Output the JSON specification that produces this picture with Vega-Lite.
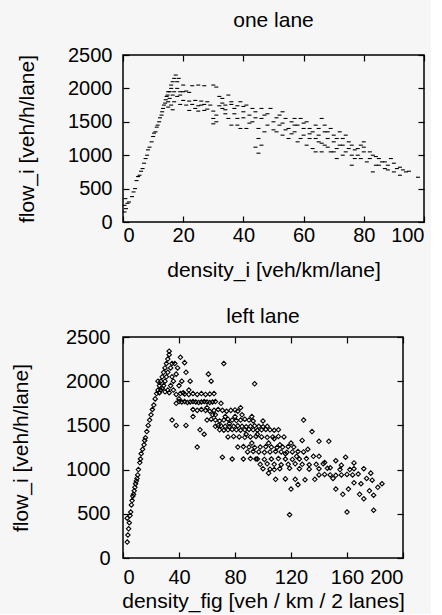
{
  "$schema": "https://vega.github.io/schema/vega-lite/v6.json",
  "background": "#f6f6f6",
  "padding": {"left": 9, "top": 9, "right": 5, "bottom": 2},
  "spacing": 24,
  "config": {
    "font": "Liberation Sans",
    "view": {"stroke": "black", "strokeWidth": 1.5},
    "axis": {"grid": false, "domain": false, "tickColor": "black", "tickSize": -6, "tickWidth": 1.2, "labelFontSize": 20, "labelColor": "black", "titleFontSize": 21, "titleFontWeight": "normal", "titleColor": "black", "labelFont": "Liberation Sans", "titleFont": "Liberation Sans", "format": "d"},
    "title": {"fontSize": 21, "fontWeight": "normal", "color": "black", "font": "Liberation Sans", "anchor": "middle", "frame": "group"}
  },
  "datasets": {
    "one": [
      {"d":0.5,"f":150},{"d":0.5,"f":250},{"d":0.8,"f":350},{"d":1,"f":200},{"d":1.5,"f":280},{"d":2,"f":300},{"d":3,"f":380},{"d":3.5,"f":450},{"d":4,"f":500},{"d":4.5,"f":620},{"d":5,"f":680},{"d":5.5,"f":700},{"d":6,"f":760},{"d":6.5,"f":800},{"d":7,"f":880},{"d":7.5,"f":950},{"d":8,"f":1000},{"d":8.3,"f":1080},{"d":8.8,"f":1120},{"d":9.5,"f":1200},{"d":10,"f":1280},{"d":10.3,"f":1330},{"d":10.8,"f":1350},{"d":11.2,"f":1420},{"d":11.5,"f":1450},{"d":12,"f":1500},{"d":12.3,"f":1560},{"d":12.8,"f":1600},{"d":13,"f":1650},{"d":13.3,"f":1700},{"d":13.6,"f":1750},{"d":14,"f":1780},{"d":14.2,"f":1830},{"d":14.5,"f":1880},{"d":14.8,"f":1900},{"d":15,"f":1950},
      {"d":15,"f":1800},{"d":15.5,"f":1850},{"d":15.5,"f":1950},{"d":16,"f":2000},{"d":16,"f":2050},{"d":16.5,"f":1900},{"d":16.5,"f":2100},{"d":17,"f":2150},{"d":17,"f":1950},{"d":17.5,"f":2200},{"d":18,"f":2100},{"d":18,"f":2000},{"d":18.5,"f":2150},{"d":19,"f":1950},{"d":15,"f":1720},{"d":16,"f":1750},{"d":17,"f":1800},{"d":18,"f":1880},{"d":19,"f":1900},{"d":20,"f":1950},{"d":21,"f":1960},{"d":22,"f":1940},{"d":16.5,"f":1680},
      {"d":20,"f":2050},{"d":23,"f":2040},{"d":25,"f":2050},{"d":27,"f":2040},{"d":30,"f":2050},{"d":31,"f":2020},
      {"d":19,"f":1760},{"d":21,"f":1750},{"d":23,"f":1760},{"d":25,"f":1740},{"d":27,"f":1760},{"d":29,"f":1750},{"d":32,"f":1740},{"d":34,"f":1750},{"d":36,"f":1760},{"d":38,"f":1740},{"d":40,"f":1730},
      {"d":20,"f":1820},{"d":22,"f":1810},{"d":24,"f":1820},{"d":26,"f":1810},{"d":28,"f":1800},
      {"d":22,"f":1670},{"d":25,"f":1660},{"d":27,"f":1670},{"d":30,"f":1660},
      {"d":30,"f":1550},{"d":31,"f":1600},{"d":32,"f":1880},{"d":33,"f":1850},{"d":33,"f":1700},{"d":34,"f":1620},{"d":35,"f":1900},{"d":36,"f":1800},{"d":37,"f":1700},{"d":38,"f":1550},{"d":38,"f":1450},{"d":39,"f":1800},{"d":40,"f":1650},{"d":41,"f":1400},{"d":41,"f":1750},{"d":42,"f":1600},{"d":43,"f":1500},{"d":43,"f":1700},{"d":44,"f":1650},{"d":45,"f":1400},{"d":45,"f":1250},{"d":46,"f":1550},{"d":46,"f":1150},{"d":47,"f":1600},{"d":47,"f":1350},{"d":48,"f":1450},{"d":49,"f":1700},{"d":50,"f":1500},{"d":44,"f":1120},{"d":45,"f":1030},{"d":39,"f":1400},{"d":36,"f":1450},{"d":35,"f":1550},{"d":30,"f":1470},{"d":31,"f":1500},
      {"d":51,"f":1350},{"d":52,"f":1450},{"d":52,"f":1600},{"d":53,"f":1300},{"d":54,"f":1550},{"d":55,"f":1400},{"d":55,"f":1250},{"d":56,"f":1500},{"d":57,"f":1350},{"d":58,"f":1200},{"d":58,"f":1450},{"d":59,"f":1550},{"d":60,"f":1300},{"d":60,"f":1400},{"d":61,"f":1150},{"d":61,"f":1500},{"d":62,"f":1250},{"d":63,"f":1350},{"d":63,"f":1100},{"d":64,"f":1450},{"d":65,"f":1200},{"d":65,"f":1300},{"d":66,"f":1050},{"d":66,"f":1550},{"d":67,"f":1150},{"d":67,"f":1350},{"d":68,"f":1250},{"d":69,"f":1050},{"d":69,"f":1400},{"d":70,"f":1200},{"d":70,"f":1300},{"d":71,"f":1100},{"d":72,"f":1150},{"d":72,"f":1350},{"d":73,"f":1250},{"d":74,"f":1050},{"d":75,"f":1200},{"d":75,"f":1100},{"d":76,"f":1150},{"d":77,"f":950},{"d":78,"f":1000},{"d":78,"f":1100},{"d":79,"f":1150},{"d":80,"f":1050},{"d":80,"f":1200},{"d":81,"f":900},{"d":82,"f":950},{"d":83,"f":1000},{"d":84,"f":850},{"d":85,"f":950},{"d":86,"f":900},{"d":87,"f":800},{"d":88,"f":850},{"d":89,"f":950},{"d":90,"f":750},{"d":91,"f":800},{"d":92,"f":700},{"d":93,"f":780},{"d":94,"f":750},{"d":95,"f":760},{"d":98,"f":670},{"d":53,"f":1650},{"d":57,"f":1550},{"d":62,"f":1400},{"d":64,"f":1050},{"d":67,"f":1450},{"d":71,"f":950},{"d":73,"f":1000},{"d":76,"f":850},{"d":83,"f":750},
      {"d":34,"f":1680},{"d":37,"f":1620},{"d":40,"f":1560},{"d":42,"f":1480},{"d":44,"f":1560},{"d":48,"f":1620},{"d":50,"f":1380},{"d":51,"f":1560},{"d":53,"f":1480},{"d":54,"f":1380},{"d":56,"f":1320},{"d":57,"f":1450},{"d":59,"f":1250},{"d":60,"f":1480},{"d":62,"f":1320},{"d":64,"f":1250},{"d":65,"f":1400},{"d":66,"f":1180},{"d":68,"f":1350},{"d":68,"f":1120},{"d":70,"f":1050},{"d":71,"f":1250},{"d":73,"f":1150},{"d":74,"f":1300},{"d":76,"f":1000},{"d":77,"f":1080},{"d":79,"f":950},{"d":80,"f":1120},{"d":82,"f":1050},{"d":84,"f":980},{"d":85,"f":850},{"d":87,"f":900},{"d":88,"f":780},{"d":90,"f":880},{"d":92,"f":820},{"d":26,"f":1750},{"d":24,"f":1700},{"d":28,"f":1690},{"d":33,"f":1780},{"d":46,"f":1700}
    ],
    "left": [
      {"d":3,"f":180},{"d":3.5,"f":260},{"d":4,"f":330},{"d":4.5,"f":400},{"d":3,"f":450},{"d":5,"f":480},{"d":5.5,"f":520},{"d":6,"f":600},{"d":6.5,"f":650},{"d":7,"f":700},{"d":7.5,"f":720},{"d":8,"f":760},{"d":8.5,"f":800},{"d":9,"f":840},{"d":9.5,"f":870},{"d":10,"f":900},{"d":10.5,"f":940},{"d":11,"f":1000},{"d":12,"f":1080},{"d":12.5,"f":1120},{"d":13,"f":1180},{"d":14,"f":1230},{"d":15,"f":1280},{"d":15.5,"f":1330},{"d":16,"f":1360},{"d":17,"f":1430},{"d":18,"f":1500},{"d":19,"f":1560},{"d":20,"f":1620},{"d":21,"f":1680},{"d":22,"f":1730},{"d":23,"f":1800},{"d":24,"f":1860},
      {"d":25,"f":1900},{"d":26,"f":1950},{"d":27,"f":2000},{"d":28,"f":2050},{"d":29,"f":2100},{"d":30,"f":2150},{"d":31,"f":2200},{"d":32,"f":2250},{"d":33,"f":2300},{"d":33,"f":2340},{"d":25,"f":2000},{"d":27,"f":1900},{"d":29,"f":1950},{"d":30,"f":2000},{"d":31,"f":2050},{"d":32,"f":2100},{"d":34,"f":2150},{"d":35,"f":2200},{"d":36,"f":2000},{"d":28,"f":1920},{"d":30,"f":1880},{"d":32,"f":1900},{"d":34,"f":1950},{"d":36,"f":1900},{"d":38,"f":2080},{"d":26,"f":1870},{"d":33,"f":1870},{"d":35,"f":2050},{"d":37,"f":2200},{"d":39,"f":2150},{"d":41,"f":2270},{"d":44,"f":2210},{"d":42,"f":2000},{"d":40,"f":1950},{"d":45,"f":2100},{"d":48,"f":2000},{"d":47,"f":1900},{"d":43,"f":1870},{"d":40,"f":1800},{"d":38,"f":1750},{"d":35,"f":1560},{"d":38,"f":1500},
      {"d":72,"f":2200},{"d":94,"f":1970},{"d":61,"f":2080},{"d":63,"f":2000},{"d":53,"f":1255},{"d":71,"f":1140},{"d":78,"f":1120},
      {"d":38,"f":1850},{"d":41,"f":1860},{"d":44,"f":1855},{"d":47,"f":1850},{"d":50,"f":1860},{"d":53,"f":1850},{"d":56,"f":1860},{"d":59,"f":1850},{"d":62,"f":1855},{"d":65,"f":1860},
      {"d":40,"f":1770},{"d":42,"f":1765},{"d":44,"f":1770},{"d":46,"f":1760},{"d":48,"f":1765},{"d":50,"f":1770},{"d":52,"f":1765},{"d":54,"f":1760},{"d":56,"f":1765},{"d":58,"f":1770},{"d":60,"f":1765},{"d":62,"f":1760},{"d":64,"f":1765},{"d":66,"f":1770},
      {"d":50,"f":1680},{"d":53,"f":1670},{"d":56,"f":1680},{"d":59,"f":1670},{"d":62,"f":1660},{"d":65,"f":1670},{"d":68,"f":1680},{"d":71,"f":1670},{"d":74,"f":1660},{"d":77,"f":1670},{"d":80,"f":1675},{"d":82,"f":1660},
      {"d":60,"f":1560},{"d":63,"f":1570},{"d":66,"f":1560},{"d":69,"f":1550},{"d":72,"f":1560},{"d":75,"f":1570},{"d":78,"f":1560},{"d":81,"f":1555},{"d":84,"f":1560},{"d":87,"f":1570},{"d":90,"f":1560},{"d":93,"f":1550},
      {"d":66,"f":1490},{"d":70,"f":1495},{"d":73,"f":1490},{"d":76,"f":1485},{"d":79,"f":1490},{"d":82,"f":1495},{"d":85,"f":1490},{"d":88,"f":1485},{"d":91,"f":1490},{"d":94,"f":1495},{"d":97,"f":1490},{"d":100,"f":1485},{"d":103,"f":1490},
      {"d":69,"f":1450},{"d":72,"f":1445},{"d":75,"f":1450},{"d":78,"f":1455},{"d":81,"f":1450},{"d":84,"f":1445},{"d":87,"f":1450},{"d":90,"f":1455},{"d":93,"f":1450},{"d":96,"f":1445},{"d":99,"f":1450},{"d":102,"f":1455},{"d":105,"f":1450},{"d":108,"f":1445},{"d":111,"f":1450},
      {"d":75,"f":1370},{"d":79,"f":1375},{"d":83,"f":1370},{"d":87,"f":1365},{"d":91,"f":1370},{"d":95,"f":1375},{"d":99,"f":1370},{"d":103,"f":1365},{"d":107,"f":1370},{"d":111,"f":1375},{"d":115,"f":1370},
      {"d":82,"f":1255},{"d":86,"f":1260},{"d":90,"f":1255},{"d":94,"f":1250},{"d":98,"f":1255},{"d":102,"f":1260},{"d":106,"f":1255},{"d":110,"f":1250},{"d":114,"f":1255},{"d":118,"f":1260},{"d":122,"f":1255},
      {"d":89,"f":1200},{"d":93,"f":1205},{"d":97,"f":1200},{"d":101,"f":1195},{"d":105,"f":1200},{"d":109,"f":1205},{"d":113,"f":1200},{"d":117,"f":1195},{"d":121,"f":1200},{"d":125,"f":1205},{"d":129,"f":1200},
      {"d":86,"f":1120},{"d":91,"f":1125},{"d":96,"f":1120},{"d":101,"f":1115},{"d":106,"f":1120},{"d":111,"f":1125},{"d":116,"f":1120},{"d":121,"f":1115},{"d":126,"f":1120},{"d":131,"f":1125},
      {"d":98,"f":1060},{"d":103,"f":1065},{"d":108,"f":1060},{"d":113,"f":1055},{"d":118,"f":1060},{"d":123,"f":1065},{"d":128,"f":1060},{"d":133,"f":1055},{"d":138,"f":1060},{"d":143,"f":1065},
      {"d":100,"f":1010},{"d":105,"f":1005},{"d":112,"f":1010},{"d":119,"f":1015},{"d":126,"f":1010},{"d":133,"f":1005},{"d":140,"f":1010},{"d":146,"f":1015},
      {"d":140,"f":940},{"d":144,"f":945},{"d":148,"f":940},{"d":152,"f":935},{"d":156,"f":940},{"d":160,"f":945},{"d":164,"f":940},
      {"d":109,"f":890},{"d":116,"f":895},{"d":123,"f":890},{"d":130,"f":885},{"d":137,"f":890},
      {"d":129,"f":1560},{"d":135,"f":1430},{"d":147,"f":1320},{"d":140,"f":1320},{"d":159,"f":1140},{"d":165,"f":1075},{"d":172,"f":1010},{"d":177,"f":960},{"d":185,"f":840},{"d":179,"f":710},{"d":179,"f":540},{"d":172,"f":670},{"d":169,"f":720},{"d":157,"f":720},{"d":152,"f":780},{"d":161,"f":780},{"d":170,"f":840},{"d":160,"f":520},{"d":119,"f":490},{"d":150,"f":900},{"d":155,"f":1000},{"d":165,"f":1010},{"d":120,"f":780},{"d":125,"f":830},
      {"d":45,"f":1500},{"d":50,"f":1600},{"d":55,"f":1450},{"d":58,"f":1400},{"d":60,"f":1700},{"d":64,"f":1620},{"d":68,"f":1500},{"d":70,"f":1750},{"d":73,"f":1600},{"d":76,"f":1520},{"d":80,"f":1600},{"d":85,"f":1620},{"d":88,"f":1400},{"d":92,"f":1300},{"d":96,"f":1400},{"d":100,"f":1550},{"d":104,"f":1300},{"d":108,"f":1350},{"d":112,"f":1280},{"d":116,"f":1180},{"d":120,"f":1300},{"d":124,"f":1150},{"d":128,"f":1330},{"d":132,"f":1230},{"d":136,"f":1150},{"d":140,"f":1150},{"d":144,"f":1080},{"d":148,"f":1020},{"d":152,"f":1100},{"d":156,"f":1050},{"d":162,"f":1000},{"d":168,"f":950},{"d":174,"f":900},{"d":178,"f":880},{"d":182,"f":800},{"d":176,"f":760},{"d":165,"f":850},{"d":108,"f":1000},{"d":104,"f":960},{"d":95,"f":1120},{"d":92,"f":1600},{"d":84,"f":1700},{"d":66,"f":1620}
    ]
  },
  "vconcat": [
    {
      "title": {"text": "one  lane", "offset": 14},
      "width": 301,
      "height": 167,
      "data": {"name": "one"},
      "layer": [
        {
          "mark": {"type": "point", "shape": "stroke", "size": 16, "strokeWidth": 1.1, "color": "black", "filled": false, "opacity": 1},
          "encoding": {
            "x": {"field": "d", "type": "quantitative", "scale": {"domain": [0, 100], "nice": false}, "axis": {"orient": "bottom", "values": [0, 20, 40, 60, 80, 100], "title": "density_i [veh/km/lane]", "labelPadding": 9, "titlePadding": 14}},
            "y": {"field": "f", "type": "quantitative", "scale": {"domain": [0, 2500], "nice": false}, "axis": {"orient": "left", "values": [0, 500, 1000, 1500, 2000, 2500], "title": "flow_i [veh/h/lane]", "labelPadding": 17, "titlePadding": 30}}
          }
        },
        {
          "mark": {"type": "point", "opacity": 0},
          "encoding": {
            "x": {"field": "d", "type": "quantitative", "axis": {"orient": "top", "labels": false, "title": null, "values": [0, 20, 40, 60, 80, 100]}},
            "y": {"field": "f", "type": "quantitative", "axis": {"orient": "right", "labels": false, "title": null, "values": [0, 500, 1000, 1500, 2000, 2500]}}
          }
        }
      ]
    },
    {
      "title": {"text": "left lane", "offset": 0},
      "width": 280,
      "height": 221,
      "data": {"name": "left"},
      "layer": [
        {
          "mark": {"type": "point", "shape": "diamond", "size": 20, "strokeWidth": 1.1, "color": "black", "filled": false, "opacity": 1},
          "encoding": {
            "x": {"field": "d", "type": "quantitative", "scale": {"domain": [0, 200], "nice": false}, "axis": {"orient": "bottom", "values": [0, 40, 80, 120, 160, 200], "title": "density_fig [veh / km / 2 lanes]", "labelPadding": 15, "titlePadding": 3}},
            "y": {"field": "f", "type": "quantitative", "scale": {"domain": [0, 2500], "nice": false}, "axis": {"orient": "left", "values": [0, 500, 1000, 1500, 2000, 2500], "title": "flow_i [veh/h/lane]", "labelPadding": 19, "titlePadding": 34}}
          }
        },
        {
          "mark": {"type": "point", "opacity": 0},
          "encoding": {
            "x": {"field": "d", "type": "quantitative", "axis": {"orient": "top", "labels": false, "title": null, "values": [0, 40, 80, 120, 160, 200]}},
            "y": {"field": "f", "type": "quantitative", "axis": {"orient": "right", "labels": false, "title": null, "values": [0, 500, 1000, 1500, 2000, 2500]}}
          }
        }
      ]
    }
  ]
}
